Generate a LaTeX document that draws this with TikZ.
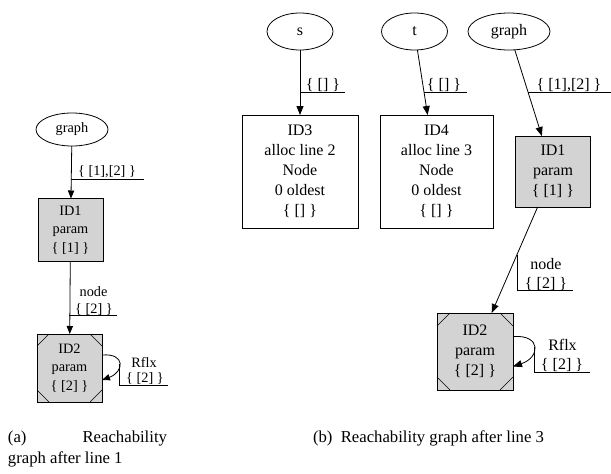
\documentclass[tikz,border=0pt]{standalone}
\usepackage{fontspec}
\setmainfont{Liberation Serif}
\usetikzlibrary{shapes.geometric,arrows.meta}
\definecolor{lightgrey}{HTML}{D3D3D3}

\tikzset{
  every node/.style={inner sep=0pt,outer sep=0pt},
  bigtxt/.style={font=\fontsize{16}{20}\selectfont},
  smalltxt/.style={font=\fontsize{14.3}{18.5}\selectfont},
  oval/.style={draw,ellipse,line width=0.8pt},
  plainbox/.style={draw,rectangle,line width=0.8pt,align=center},
  greybox/.style={plainbox,fill=lightgrey},
  lbl/.style={align=center},
  edge/.style={line width=0.8pt,-{Triangle[length=9pt,width=7pt]}},
  edgesm/.style={line width=0.8pt,-{Triangle[length=8pt,width=6.3pt]}},
  deco/.style={line width=0.8pt},
  cut/.style={line width=0.6pt},
  captxt/.style={font=\fontsize{16.7}{21}\selectfont,anchor=base west},
}

\begin{document}
\begin{tikzpicture}[x=1pt,y=-1pt]
\useasboundingbox (0,0) rectangle (611,474);

% ---------- (a) graph after line 1 ----------
\begin{scope}[smalltxt]
\node[oval,minimum width=72pt,minimum height=33pt] (gA) at (72,129.5) {graph};
\node[greybox,minimum width=65pt,minimum height=63pt] (id1A) at (70.5,230) {ID1\\param\\\{ [1] \}};
\node[greybox,minimum width=65pt,minimum height=68pt] (id2A) at (69.5,368) {ID2\\param\\\{ [2] \}};

\node[lbl] (lgA) at (107,172) {\{ [1],[2] \}};
\node[lbl] (lnA) at (93.5,292) {node};
\node[lbl] (lnA2) at (94,309) {\{ [2] \}};
\node[lbl] (lrA) at (144,362) {Rflx};
\node[lbl] (lrA2) at (145,378.5) {\{ [2] \}};
\coordinate (ugA) at (144,179);
\coordinate (unA) at (117,315);
\coordinate (urA) at (168,385);

\draw[edgesm] (gA) -- coordinate[pos=0.62] (mgA) (id1A);
\draw[edgesm] (id1A) -- coordinate[pos=0.74] (mnA) (id2A);
\draw[edgesm] ([yshift=13pt]id2A.east) .. controls +(24,-2) and +(22,-8) ..
  coordinate[pos=0.5] (mrA) ([yshift=-12pt]id2A.east);

\draw[deco] (mgA) -- (mgA |- ugA) -- (ugA);
\draw[deco] (mnA) -- (mnA |- unA) -- (unA);
\draw[deco] (mrA) -- (mrA |- urA) -- (urA);
\end{scope}

% ---------- (b) graph after line 3 ----------
\begin{scope}[bigtxt]
\node[oval,minimum width=66pt,minimum height=37pt] (s) at (300,31.5) {s};
\node[oval,minimum width=66pt,minimum height=37pt] (t) at (414.5,31.5) {t};
\node[oval,minimum width=82pt,minimum height=37pt] (gB) at (509,31.5) {graph};

\node[plainbox,minimum width=116pt,minimum height=113pt] (id3) at (300,171.5)
  {ID3\\alloc line 2\\Node\\0 oldest\\\{ [] \}};
\node[plainbox,minimum width=113pt,minimum height=113pt] (id4) at (436.5,171.5)
  {ID4\\alloc line 3\\Node\\0 oldest\\\{ [] \}};
\node[greybox,minimum width=75pt,minimum height=71pt] (id1B) at (553,171.5) {ID1\\param\\\{ [1] \}};
\node[greybox,minimum width=76pt,minimum height=77pt] (id2B) at (475,351.5) {ID2\\param\\\{ [2] \}};

\node[lbl] (ls) at (323,85) {\{ [] \}};
\node[lbl] (lt) at (444,85) {\{ [] \}};
\node[lbl] (lgB) at (569,85) {\{ [1],[2] \}};
\node[lbl] (lnB) at (546,264) {node};
\node[lbl] (lnB2) at (546,284) {\{ [2] \}};
\node[lbl] (lrB) at (562.5,345) {Rflx};
\node[lbl] (lrB2) at (562,365) {\{ [2] \}};
\coordinate (us) at (345,92);
\coordinate (ut) at (467,92);
\coordinate (ugB) at (611,92);
\coordinate (unB) at (572.7,290);
\coordinate (urB) at (590,372);

\draw[edge] (s) -- coordinate[pos=0.65] (ms) (id3);
\draw[edge] (t) -- coordinate[pos=0.65] (mt) (id4);
\draw[edge] (gB) -- coordinate[pos=0.49] (mgB) (id1B);
\draw[edge] (id1B) -- coordinate[pos=0.45] (mnB) (id2B);
\draw[edge] ([yshift=15pt]id2B.east) .. controls +(29,-2) and +(27,-9) ..
  coordinate[pos=0.5] (mrB) ([yshift=-15pt]id2B.east);

\draw[deco] (ms) -- (ms |- us) -- (us);
\draw[deco] (mt) -- (mt |- ut) -- (ut);
\draw[deco] (mgB) -- (mgB |- ugB) -- (ugB);
\draw[deco] (mnB) -- (mnB |- unB) -- (unB);
\draw[deco] (mrB) -- (mrB |- urB) -- (urB);
\end{scope}

% corner cuts of the Msquare nodes
\foreach \n/\c in {id2A/12pt,id2B/13pt}{
  \draw[cut] ([yshift=-\c]\n.north west) -- ([xshift=\c]\n.north west);
  \draw[cut] ([yshift=-\c]\n.north east) -- ([xshift=-\c]\n.north east);
  \draw[cut] ([yshift=\c]\n.south west) -- ([xshift=\c]\n.south west);
  \draw[cut] ([yshift=\c]\n.south east) -- ([xshift=-\c]\n.south east);
}

% ---------- captions ----------
\node[captxt] (capA1) at (8,442) {(a)};
\node[captxt,anchor=base east] (capA2) at (167,442) {Reachability};
\node[captxt] (capA3) at (8,463) {graph after line 1};
\node[captxt] (capB) at (313,442) {(b)\enspace Reachability graph after line 3};
\end{tikzpicture}
\end{document}
